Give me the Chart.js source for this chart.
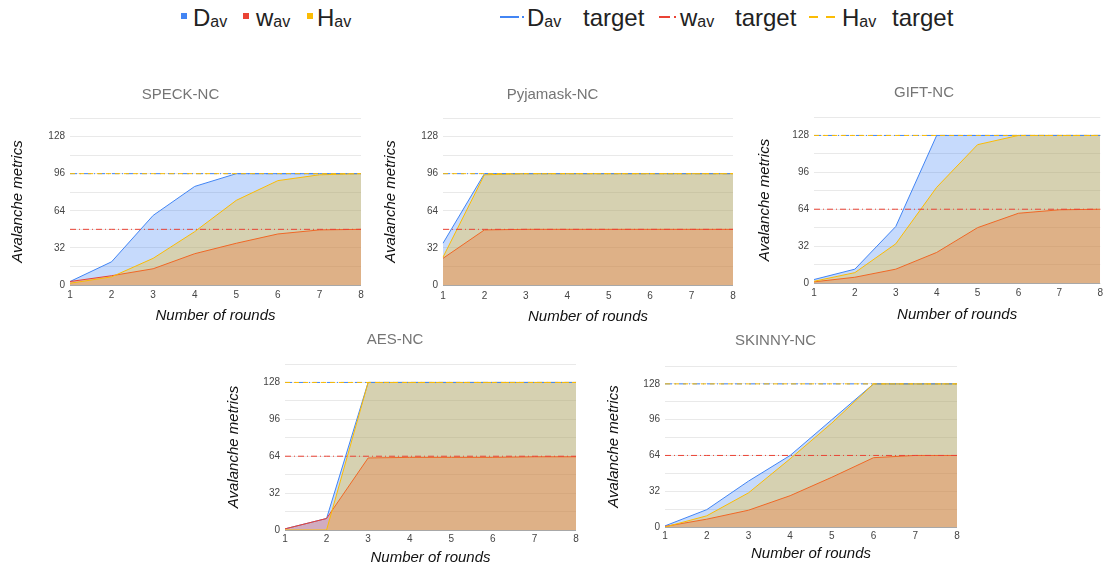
<!DOCTYPE html>
<html>
<head>
<meta charset="utf-8">
<title>Avalanche metrics</title>
<style>
  body {
    margin: 0;
    background: #fff;
    width: 1107px;
    height: 568px;
    overflow: hidden;
    position: relative;
    font-family: 'Liberation Sans', Arial, sans-serif;
  }
  canvas { position: absolute; }
  .lg { position: absolute; top: 6px; font-size: 24px; line-height: 24px; color: #222; white-space: nowrap; }
  .lg sub { font-size: 16px; vertical-align: -1px; }
  .sq { position: absolute; top: 13px; width: 6px; height: 6px; }
  .ln { position: absolute; top: 15px; }
</style>
</head>
<body>

<!-- legend -->
<div class="sq" style="left:181px;background:#4285f4"></div>
<div class="lg" style="left:193px">D<sub>av</sub></div>
<div class="sq" style="left:243px;background:#ea4335"></div>
<div class="lg" style="left:256px">w<sub>av</sub></div>
<div class="sq" style="left:307px;background:#fbbc04"></div>
<div class="lg" style="left:317px">H<sub>av</sub></div>

<svg class="ln" style="left:500px" width="26" height="4"><line x1="0" y1="2" x2="19" y2="2" stroke="#4285f4" stroke-width="2"/><line x1="22" y1="2" x2="24" y2="2" stroke="#4285f4" stroke-width="2"/></svg>
<div class="lg" style="left:527px">D<sub>av</sub></div>
<div class="lg" style="left:583px">target</div>
<svg class="ln" style="left:659px" width="20" height="4"><line x1="0" y1="2" x2="11" y2="2" stroke="#ea4335" stroke-width="2"/><line x1="15" y1="2" x2="17" y2="2" stroke="#ea4335" stroke-width="2"/></svg>
<div class="lg" style="left:680px">w<sub>av</sub></div>
<div class="lg" style="left:735px">target</div>
<svg class="ln" style="left:809px" width="28" height="4"><line x1="0" y1="2" x2="9" y2="2" stroke="#fbbc04" stroke-width="2"/><line x1="17" y1="2" x2="26" y2="2" stroke="#fbbc04" stroke-width="2"/></svg>
<div class="lg" style="left:842px">H<sub>av</sub></div>
<div class="lg" style="left:892px">target</div>

<canvas id="speck" width="370" height="252" style="left:0px;top:78px"></canvas>
<canvas id="pyjamask" width="370" height="252" style="left:372px;top:78px"></canvas>
<canvas id="gift" width="364" height="252" style="left:743px;top:76px"></canvas>
<canvas id="aes" width="370" height="245" style="left:214px;top:323px"></canvas>
<canvas id="skinny" width="370" height="244" style="left:594px;top:324px"></canvas>

<script src="https://cdn.jsdelivr.net/npm/chart.js@4.4.1/dist/chart.umd.min.js"></script>
<script>
// data
var rounds = ['1', '2', '3', '4', '5', '6', '7', '8'];
var yTicks = [0, 32, 64, 96, 128];

var speckD = [3, 20, 60, 85, 96, 96, 96, 96];
var speckW = [3, 8, 14, 27, 36, 44, 47.5, 48];
var speckH = [1.5, 7, 23, 46, 73, 90, 95, 96];
var speckTarget = [96, 48, 96]; // D, w, H

var pyjamaskD = [36, 96, 96, 96, 96, 96, 96, 96];
var pyjamaskW = [23, 47.5, 48, 48, 48, 48, 48, 48];
var pyjamaskH = [24, 95, 96, 96, 96, 96, 96, 96];
var pyjamaskTarget = [96, 48, 96];

var giftD = [3, 12, 49, 128, 128, 128, 128, 128];
var giftW = [1, 5, 12, 26.5, 48, 60.5, 63.5, 64];
var giftH = [1.5, 9, 34, 83, 120, 128, 128, 128];
var giftTarget = [128, 64, 128];

var aesD = [1, 10, 128, 128, 128, 128, 128, 128];
var aesW = [1, 10, 62.5, 63, 63, 63, 63.5, 63.5];
var aesH = [0, 0, 128, 128, 128, 128, 128, 128];
var aesTarget = [128, 64, 128];

var skinnyD = [1, 15.5, 41, 64, 96, 128, 128, 128];
var skinnyW = [0.5, 7, 15, 28, 44.5, 62, 64, 64];
var skinnyH = [0, 10, 30.5, 61, 93, 128, 128, 128];
var skinnyTarget = [128, 64, 128];

var FONT = "'Liberation Sans', Arial, sans-serif";
Chart.defaults.font.family = FONT;

var BLUE = '#4285f4', RED = '#ea4335', YELLOW = '#fbbc04';

function area(label, data, color, fillColor, order) {
  return {
    label: label, data: data, borderColor: color, backgroundColor: fillColor,
    borderWidth: 1, fill: 'origin', pointRadius: 0, tension: 0, order: order
  };
}

function targetLine(label, value, color, dash, order) {
  return {
    label: label, data: rounds.map(function () { return value; }),
    borderColor: color, borderWidth: 1, borderDash: dash,
    fill: false, pointRadius: 0, order: order
  };
}

function makeChart(id, title, d, w, h, target, g) {
  new Chart(document.getElementById(id), {
    type: 'line',
    data: {
      labels: rounds,
      datasets: [
        area('Dav', d, BLUE, 'rgba(66,133,244,0.3)', 5),
        area('wav', w, RED, 'rgba(234,67,53,0.3)', 4),
        area('Hav', h, YELLOW, 'rgba(251,188,4,0.3)', 3),
        targetLine('Dav target', target[0], BLUE, [7, 3, 1, 3], 2),
        targetLine('wav target', target[1], RED, [6, 3, 1, 3], 1),
        targetLine('Hav target', target[2], YELLOW, [5, 4], 0)
      ]
    },
    options: {
      responsive: false,
      animation: false,
      layout: { padding: { left: 0, right: g.right, top: 0, bottom: 0 } },
      plugins: {
        legend: { display: false },
        tooltip: { enabled: false },
        title: {
          display: true, text: title, color: '#757575',
          font: { size: 15, weight: 'normal' },
          padding: { top: 8, bottom: g.titleBottom }
        }
      },
      scales: {
        x: {
          type: 'category',
          offset: false,
          grid: { display: false, drawTicks: false },
          border: { display: false },
          ticks: { color: '#444', font: { size: 10 }, padding: g.xPad, maxRotation: 0, autoSkip: false },
          title: {
            display: true, text: 'Number of rounds', color: '#111',
            font: { size: 15, style: 'italic' },
            padding: { top: 0, bottom: g.xTitlePad }
          },
          afterFit: function (s) { s.height = g.xH; }
        },
        y: {
          min: 0, max: 144,
          grid: {
            drawTicks: false,
            color: function (c) { return c.tick && c.tick.value === 0 ? '#a8a8a8' : '#e9e9e9'; }
          },
          border: { display: false },
          ticks: {
            stepSize: 16, padding: 5, color: '#444', font: { size: 10 },
            callback: function (v) { return yTicks.indexOf(v) >= 0 ? String(v) : ''; }
          },
          title: {
            display: true, text: 'Avalanche metrics', color: '#111',
            font: { size: 15, style: 'italic' },
            padding: { top: g.yTitlePad, bottom: 0 }
          },
          afterFit: function (s) { s.width = g.yW; }
        }
      }
    }
  });
}

makeChart('speck', 'SPECK-NC', speckD, speckW, speckH, speckTarget,
  { right: 9, titleBottom: 14, xH: 45, xPad: 4, xTitlePad: 5, yW: 70, yTitlePad: 9 });
makeChart('pyjamask', 'Pyjamask-NC', pyjamaskD, pyjamaskW, pyjamaskH, pyjamaskTarget,
  { right: 9, titleBottom: 14, xH: 45, xPad: 5, xTitlePad: 4, yW: 71, yTitlePad: 10 });
makeChart('gift', 'GIFT-NC', giftD, giftW, giftH, giftTarget,
  { right: 2, titleBottom: 15, xH: 45, xPad: 4, xTitlePad: 4, yW: 71, yTitlePad: 13 });
makeChart('aes', 'AES-NC', aesD, aesW, aesH, aesTarget,
  { right: 8, titleBottom: 15, xH: 38, xPad: 3, xTitlePad: 1, yW: 71, yTitlePad: 11 });
makeChart('skinny', 'SKINNY-NC', skinnyD, skinnyW, skinnyH, skinnyTarget,
  { right: 7, titleBottom: 16, xH: 41, xPad: 3, xTitlePad: 5, yW: 71, yTitlePad: 11 });
</script>
</body>
</html>
